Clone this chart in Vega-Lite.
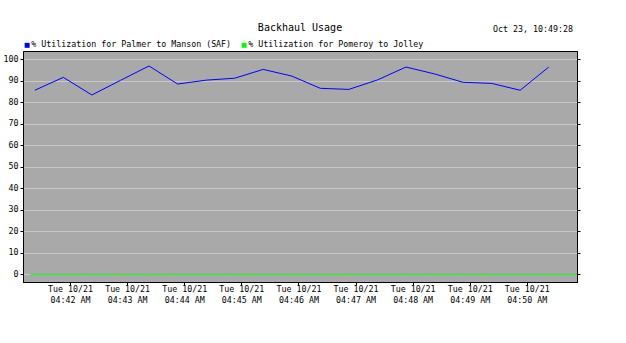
{
  "$schema": "https://vega.github.io/schema/vega-lite/v6.json",
  "width": 554,
  "height": 231,
  "autosize": {"type": "none"},
  "padding": {"left": 23, "top": 51, "right": 49, "bottom": 61},
  "background": "white",
  "config": {
    "font": "DejaVu Sans Mono",
    "view": {"fill": "#a9a9a9", "stroke": "black", "strokeWidth": 1},
    "axis": {"labelFont": "DejaVu Sans Mono", "labelFontSize": 8.3, "labelColor": "black", "domainColor": "black", "tickColor": "black", "title": null}
  },
  "title": {"text": "Backhaul Usage", "font": "DejaVu Sans Mono", "fontSize": 10, "fontWeight": "normal", "color": "black", "anchor": "middle", "baseline": "alphabetic", "offset": -16},
  "datasets": {
    "usage": [
      {"t": "2025-10-21T04:41:23", "v": 85.6, "series": "% Utilization for Palmer to Manson (SAF)"},
      {"t": "2025-10-21T04:41:53", "v": 91.6, "series": "% Utilization for Palmer to Manson (SAF)"},
      {"t": "2025-10-21T04:42:23", "v": 83.4, "series": "% Utilization for Palmer to Manson (SAF)"},
      {"t": "2025-10-21T04:42:53", "v": 90.2, "series": "% Utilization for Palmer to Manson (SAF)"},
      {"t": "2025-10-21T04:43:23", "v": 96.9, "series": "% Utilization for Palmer to Manson (SAF)"},
      {"t": "2025-10-21T04:43:53", "v": 88.5, "series": "% Utilization for Palmer to Manson (SAF)"},
      {"t": "2025-10-21T04:44:23", "v": 90.3, "series": "% Utilization for Palmer to Manson (SAF)"},
      {"t": "2025-10-21T04:44:53", "v": 91.2, "series": "% Utilization for Palmer to Manson (SAF)"},
      {"t": "2025-10-21T04:45:23", "v": 95.3, "series": "% Utilization for Palmer to Manson (SAF)"},
      {"t": "2025-10-21T04:45:53", "v": 92.2, "series": "% Utilization for Palmer to Manson (SAF)"},
      {"t": "2025-10-21T04:46:23", "v": 86.5, "series": "% Utilization for Palmer to Manson (SAF)"},
      {"t": "2025-10-21T04:46:53", "v": 86.0, "series": "% Utilization for Palmer to Manson (SAF)"},
      {"t": "2025-10-21T04:47:23", "v": 90.4, "series": "% Utilization for Palmer to Manson (SAF)"},
      {"t": "2025-10-21T04:47:53", "v": 96.4, "series": "% Utilization for Palmer to Manson (SAF)"},
      {"t": "2025-10-21T04:48:23", "v": 93.2, "series": "% Utilization for Palmer to Manson (SAF)"},
      {"t": "2025-10-21T04:48:53", "v": 89.3, "series": "% Utilization for Palmer to Manson (SAF)"},
      {"t": "2025-10-21T04:49:23", "v": 88.8, "series": "% Utilization for Palmer to Manson (SAF)"},
      {"t": "2025-10-21T04:49:53", "v": 85.6, "series": "% Utilization for Palmer to Manson (SAF)"},
      {"t": "2025-10-21T04:50:23", "v": 96.4, "series": "% Utilization for Palmer to Manson (SAF)"},
      {"t": "2025-10-21T04:41:18", "v": 0, "series": "% Utilization for Pomeroy to Jolley"},
      {"t": "2025-10-21T04:41:48", "v": 0, "series": "% Utilization for Pomeroy to Jolley"},
      {"t": "2025-10-21T04:42:18", "v": 0, "series": "% Utilization for Pomeroy to Jolley"},
      {"t": "2025-10-21T04:42:48", "v": 0, "series": "% Utilization for Pomeroy to Jolley"},
      {"t": "2025-10-21T04:43:18", "v": 0, "series": "% Utilization for Pomeroy to Jolley"},
      {"t": "2025-10-21T04:43:48", "v": 0, "series": "% Utilization for Pomeroy to Jolley"},
      {"t": "2025-10-21T04:44:18", "v": 0, "series": "% Utilization for Pomeroy to Jolley"},
      {"t": "2025-10-21T04:44:48", "v": 0, "series": "% Utilization for Pomeroy to Jolley"},
      {"t": "2025-10-21T04:45:18", "v": 0, "series": "% Utilization for Pomeroy to Jolley"},
      {"t": "2025-10-21T04:45:48", "v": 0, "series": "% Utilization for Pomeroy to Jolley"},
      {"t": "2025-10-21T04:46:18", "v": 0, "series": "% Utilization for Pomeroy to Jolley"},
      {"t": "2025-10-21T04:46:48", "v": 0, "series": "% Utilization for Pomeroy to Jolley"},
      {"t": "2025-10-21T04:47:18", "v": 0, "series": "% Utilization for Pomeroy to Jolley"},
      {"t": "2025-10-21T04:47:48", "v": 0, "series": "% Utilization for Pomeroy to Jolley"},
      {"t": "2025-10-21T04:48:18", "v": 0, "series": "% Utilization for Pomeroy to Jolley"},
      {"t": "2025-10-21T04:48:48", "v": 0, "series": "% Utilization for Pomeroy to Jolley"},
      {"t": "2025-10-21T04:49:18", "v": 0, "series": "% Utilization for Pomeroy to Jolley"},
      {"t": "2025-10-21T04:49:48", "v": 0, "series": "% Utilization for Pomeroy to Jolley"},
      {"t": "2025-10-21T04:50:18", "v": 0, "series": "% Utilization for Pomeroy to Jolley"},
      {"t": "2025-10-21T04:50:48", "v": 0, "series": "% Utilization for Pomeroy to Jolley"},
      {"t": "2025-10-21T04:51:18", "v": 0, "series": "% Utilization for Pomeroy to Jolley"}
    ],
    "stamp": [{"label": "Oct 23, 10:49:28", "t": "2025-10-21T04:50:48.500", "v": 112.7}]
  },
  "layer": [
    {
      "data": {"name": "usage"},
      "mark": {"type": "line", "strokeWidth": 1, "clip": true},
      "encoding": {
        "x": {
          "field": "t", "type": "temporal",
          "scale": {"domain": ["2025-10-21T04:41:10.600", "2025-10-21T04:50:52.700"], "nice": false},
          "axis": {
            "orient": "bottom", "grid": false,
            "values": [
              {"year": 2025, "month": 10, "date": 21, "hours": 4, "minutes": 42},
              {"year": 2025, "month": 10, "date": 21, "hours": 4, "minutes": 43},
              {"year": 2025, "month": 10, "date": 21, "hours": 4, "minutes": 44},
              {"year": 2025, "month": 10, "date": 21, "hours": 4, "minutes": 45},
              {"year": 2025, "month": 10, "date": 21, "hours": 4, "minutes": 46},
              {"year": 2025, "month": 10, "date": 21, "hours": 4, "minutes": 47},
              {"year": 2025, "month": 10, "date": 21, "hours": 4, "minutes": 48},
              {"year": 2025, "month": 10, "date": 21, "hours": 4, "minutes": 49},
              {"year": 2025, "month": 10, "date": 21, "hours": 4, "minutes": 50}
            ],
            "format": "%a %m/%d", "labelBaseline": "top", "labelPadding": -1, "tickSize": 3,
            "labelFlush": false, "labelOverlap": false
          }
        },
        "y": {
          "field": "v", "type": "quantitative",
          "scale": {"domain": [-3.58, 103.86], "nice": false, "zero": false},
          "axis": {
            "orient": "left", "values": [0, 10, 20, 30, 40, 50, 60, 70, 80, 90, 100],
            "grid": true, "gridColor": "#c8c8c8", "tickSize": 3, "labelPadding": 2
          }
        },
        "color": {
          "field": "series", "type": "nominal",
          "scale": {"domain": ["% Utilization for Palmer to Manson (SAF)", "% Utilization for Pomeroy to Jolley"], "range": ["#0000ff", "#00ff00"]},
          "legend": {
            "orient": "none", "legendX": 0, "legendY": -10, "direction": "horizontal", "title": null,
            "symbolType": "square", "symbolSize": 1, "symbolStrokeWidth": 4, "symbolOpacity": 1,
            "labelFont": "DejaVu Sans Mono", "labelFontSize": 8.3, "labelColor": "black", "labelLimit": 400,
            "labelOffset": 0, "columnPadding": 3, "padding": 0
          }
        }
      }
    },
    {
      "data": {"name": "usage"},
      "mark": {"type": "line", "opacity": 0},
      "encoding": {
        "x": {
          "field": "t", "type": "temporal",
          "axis": {
            "orient": "bottom", "grid": false, "domain": false, "ticks": false,
            "values": [
              {"year": 2025, "month": 10, "date": 21, "hours": 4, "minutes": 42},
              {"year": 2025, "month": 10, "date": 21, "hours": 4, "minutes": 43},
              {"year": 2025, "month": 10, "date": 21, "hours": 4, "minutes": 44},
              {"year": 2025, "month": 10, "date": 21, "hours": 4, "minutes": 45},
              {"year": 2025, "month": 10, "date": 21, "hours": 4, "minutes": 46},
              {"year": 2025, "month": 10, "date": 21, "hours": 4, "minutes": 47},
              {"year": 2025, "month": 10, "date": 21, "hours": 4, "minutes": 48},
              {"year": 2025, "month": 10, "date": 21, "hours": 4, "minutes": 49},
              {"year": 2025, "month": 10, "date": 21, "hours": 4, "minutes": 50}
            ],
            "format": "%I:%M %p", "labelBaseline": "top", "labelPadding": 13,
            "labelFlush": false, "labelOverlap": false
          }
        },
        "y": {
          "field": "v", "type": "quantitative",
          "axis": {"orient": "right", "values": [0, 10, 20, 30, 40, 50, 60, 70, 80, 90, 100], "labels": false, "grid": false, "tickSize": 3}
        }
      }
    },
    {
      "data": {"name": "stamp"},
      "mark": {"type": "text", "align": "right", "baseline": "alphabetic", "font": "DejaVu Sans Mono", "fontSize": 8.3, "color": "black"},
      "encoding": {
        "x": {"field": "t", "type": "temporal", "axis": null},
        "y": {"field": "v", "type": "quantitative", "axis": null},
        "text": {"field": "label"}
      }
    }
  ],
  "resolve": {"axis": {"x": "independent", "y": "independent"}}
}
